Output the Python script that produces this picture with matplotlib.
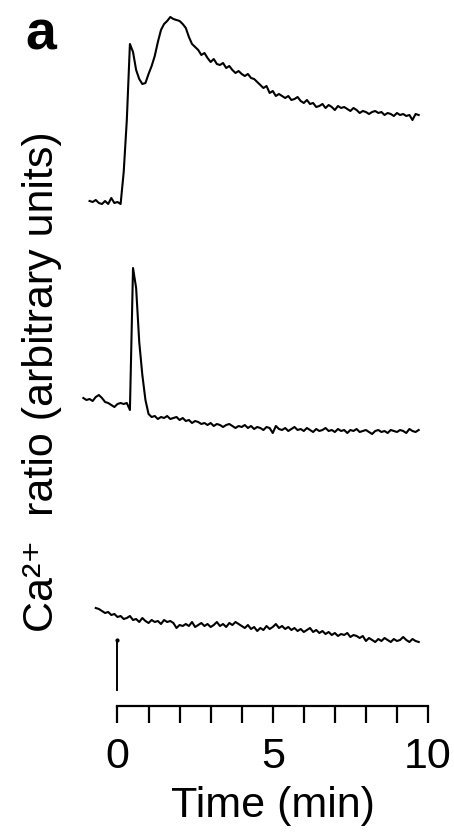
import numpy as np
import matplotlib
matplotlib.use("Agg")
import matplotlib.pyplot as plt

plt.rcParams['font.family'] = ['Liberation Sans', 'DejaVu Sans']

# Ca2+ ratio traces (arbitrary units), sampled every 0.1 min
trace1 = [505, 504, 506, 503, 502, 505, 502, 508, 503, 504,
          502, 534, 586, 662, 654, 636, 627, 622, 623, 632,
          640, 650, 664, 676, 682, 685, 689, 687, 686, 685,
          682, 678, 669, 662, 659, 656, 651, 653, 648, 644,
          647, 642, 641, 643, 638, 640, 636, 633, 635, 632,
          630, 632, 628, 627, 624, 621, 618, 620, 613, 615,
          610, 612, 610, 608, 610, 606, 607, 609, 605, 603,
          606, 602, 603, 599, 600, 602, 598, 601, 599, 596,
          600, 598, 599, 597, 595, 598, 596, 593, 595, 594,
          592, 594, 595, 593, 594, 591, 593, 592, 590, 593,
          591, 592, 590, 591, 586, 592, 591]
t1_start, t1_end = -0.9, 9.7

trace2 = [308, 306, 307, 305, 309, 311, 308, 304, 303, 301,
          299, 302, 303, 302, 303, 296, 438, 418, 364, 331,
          306, 292, 289, 290, 287, 289, 288, 290, 287, 288,
          289, 286, 288, 285, 286, 283, 285, 284, 282, 283,
          281, 283, 280, 282, 281, 279, 281, 282, 280, 278,
          280, 279, 281, 278, 280, 277, 279, 278, 276, 279,
          278, 273, 280, 277, 276, 278, 275, 277, 279, 276,
          277, 275, 278, 276, 274, 277, 275, 276, 278, 275,
          276, 274, 277, 275, 276, 273, 276, 275, 277, 274,
          275, 276, 274, 272, 275, 276, 274, 275, 273, 276,
          275, 274, 276, 275, 273, 277, 275, 274, 276]
t2_start, t2_end = -1.1, 9.7

trace3 = [98, 97, 95, 93, 94, 91, 92, 89, 90, 87,
          88, 90, 86, 87, 84, 88, 85, 83, 86, 84,
          85, 82, 86, 84, 85, 83, 78, 81, 80, 82,
          80, 84, 79, 81, 83, 80, 82, 79, 81, 84,
          80, 82, 79, 83, 81, 84, 82, 80, 78, 81,
          77, 79, 75, 78, 76, 80, 77, 79, 82, 78,
          80, 77, 79, 76, 78, 75, 77, 74, 76, 78,
          74, 76, 73, 75, 72, 74, 71, 73, 70, 72,
          71, 73, 69, 71, 70, 68, 70, 65, 68, 66,
          64, 67, 65, 68, 66, 64, 67, 65, 66, 69,
          66, 64, 67, 65, 64]
t3_start, t3_end = -0.7, 9.7

# stimulus marker at t = 0
stim_t = 0
stim_lo, stim_hi = 16, 66

xticks_major = [0, 5, 10]
xticks_minor = [1, 2, 3, 4, 6, 7, 8, 9]

fig = plt.figure(figsize=(4.54, 8.32), dpi=100)
ax = fig.add_axes([0, 126 / 832, 1, 706 / 832])

for tr, a, b in [(trace1, t1_start, t1_end), (trace2, t2_start, t2_end),
                 (trace3, t3_start, t3_end)]:
    t = np.linspace(a, b, len(tr))
    ax.plot(t, tr, color='black', lw=1.5)

ax.plot([stim_t, stim_t], [stim_lo, stim_hi], color='black', lw=1.4)
ax.plot([stim_t], [stim_hi], 'o', color='black', ms=2)

ax.set_xlim(-3.784, 10.837)
ax.set_ylim(0, 706)

for s in ['top', 'right', 'left']:
    ax.spines[s].set_visible(False)
ax.spines['bottom'].set_bounds(0, 10)
ax.spines['bottom'].set_linewidth(1.6)
ax.set_yticks([])
ax.set_xticks(xticks_major)
ax.set_xticks(xticks_minor, minor=True)
ax.tick_params(axis='x', which='both', direction='out', length=12, width=1.6)
ax.tick_params(axis='x', which='major', labelsize=31, pad=10)
ax.set_xlabel('Time (min)', fontsize=31, labelpad=7,
              x=(5 + 3.784) / (10.837 + 3.784))
ax.patch.set_visible(False)

fig.text(42 / 454, 1 - 382 / 832, 'Ca²⁺  ratio (arbitrary units)',
         rotation=90, ha='center', va='center', fontsize=31)
fig.text(25 / 454, 1 - 10 / 832, 'a', fontsize=40, fontweight='bold',
         ha='left', va='top')

fig.savefig('out.png', dpi=100)
